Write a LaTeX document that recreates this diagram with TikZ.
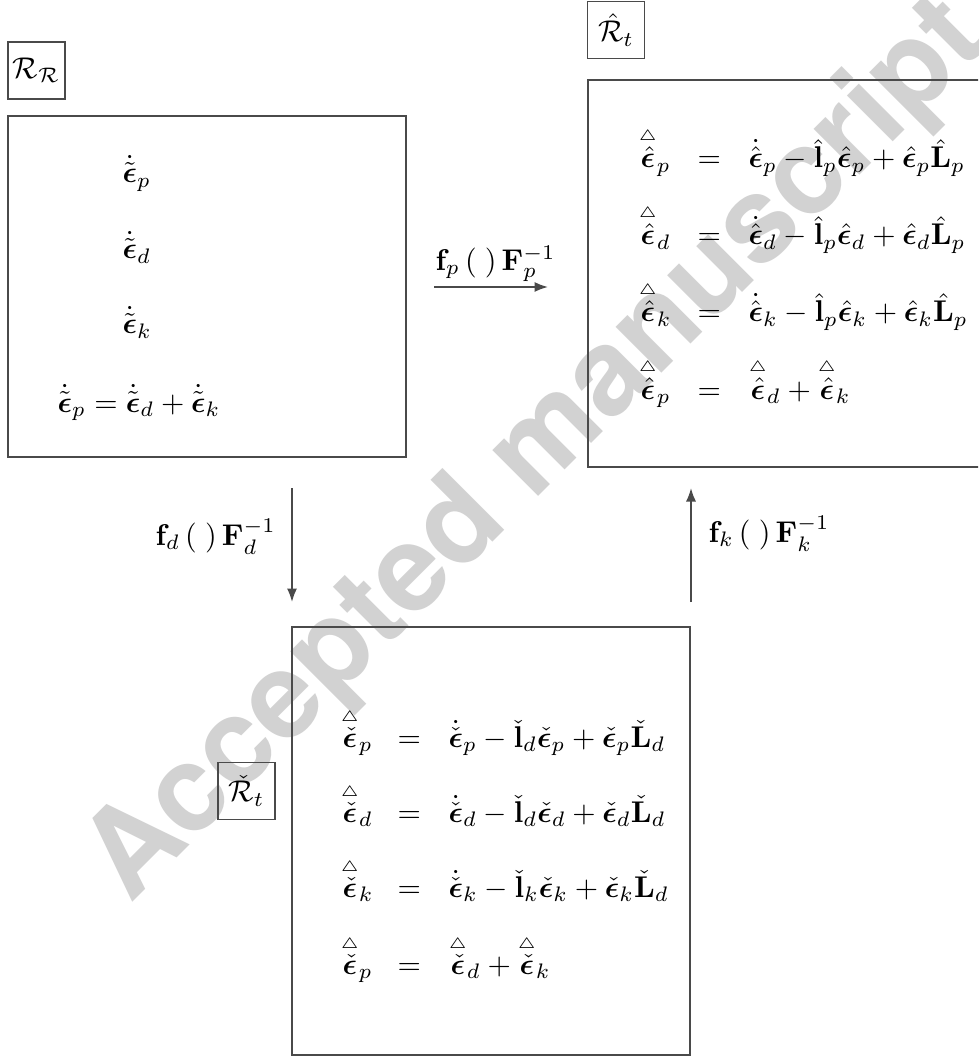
\documentclass[tikz,border=0pt]{standalone}
\usepackage{amsmath,amssymb,bm}
\usepackage[no-math]{fontspec}
\newfontfamily\wmfont{TeX Gyre Heros}
\usetikzlibrary{arrows.meta}
\definecolor{linegray}{HTML}{4A4A4A}
\definecolor{wmgray}{HTML}{D2D2D2}
\newcommand{\beps}{\bm{\epsilon}}
\newcommand{\tri}[1]{\overset{\scriptscriptstyle\triangle}{#1}}
\tikzset{
  bigbox/.style={draw=linegray, line width=0.6pt, inner sep=0pt},
  lblbox/.style={draw=linegray, line width=0.6pt, inner sep=0pt, minimum size=19pt},
  arr/.style={draw=linegray, line width=0.6pt, -{Latex[length=4.5pt,width=3.4pt]}},
  eq/.style={anchor=base west, inner sep=0pt},
  wm/.style={text=wmgray, font=\wmfont\bfseries\fontsize{40}{40}\selectfont, rotate=45}
}
\begin{document}
\begin{tikzpicture}[x=0.33333pt,y=-0.33333pt]
\useasboundingbox (0,0) rectangle (978,1057);
\clip (0,0) rectangle (978,1057);
\fill[white] (0,0) rectangle (978,1057);
% watermark
\node[wm] (wmark) at (538,452) {Accepted manuscript};
% label boxes
\node[lblbox] (RR) at (36.5,70.5) {$\mathcal{R}_{\mathcal{R}}$};
\node[lblbox] (Rhat) at (616,30) {$\hat{\mathcal{R}}_t$};
\node[lblbox] (Rchk) at (246.5,791) {$\check{\mathcal{R}}_t$};
% big boxes
\node[bigbox, minimum width=132.67pt, minimum height=113.67pt] (L) at (207,286.5) {};
\node[bigbox, minimum width=132.67pt, minimum height=129pt] (Rt) at (787,273.5) {};
\node[bigbox, minimum width=132.67pt, minimum height=142.67pt] (B) at (491,841) {};
% left box contents
\node[eq] (l1) at (122,183) {$\dot{\tilde{\beps}}_p$};
\node[eq] (l2) at (122,259) {$\dot{\tilde{\beps}}_d$};
\node[eq] (l3) at (122,334) {$\dot{\tilde{\beps}}_k$};
\node[eq] (l4) at (57,412) {$\dot{\tilde{\beps}}_p=\dot{\tilde{\beps}}_d+\dot{\tilde{\beps}}_k$};
% right box contents
\node[eq] (r1a) at (638,168) {$\tri{\hat{\beps}}_p$};
\node[eq] (r1b) at (697,168) {$=$};
\node[eq] (r1c) at (748,168) {$\dot{\hat{\beps}}_p-\hat{\mathbf{l}}_p\hat{\beps}_p+\hat{\beps}_p\hat{\mathbf{L}}_p$};
\node[eq] (r2a) at (638,245) {$\tri{\hat{\beps}}_d$};
\node[eq] (r2b) at (697,245) {$=$};
\node[eq] (r2c) at (748,245) {$\dot{\hat{\beps}}_d-\hat{\mathbf{l}}_p\hat{\beps}_d+\hat{\beps}_d\hat{\mathbf{L}}_p$};
\node[eq] (r3a) at (638,322) {$\tri{\hat{\beps}}_k$};
\node[eq] (r3b) at (697,322) {$=$};
\node[eq] (r3c) at (748,322) {$\dot{\hat{\beps}}_k-\hat{\mathbf{l}}_p\hat{\beps}_k+\hat{\beps}_k\hat{\mathbf{L}}_p$};
\node[eq] (r4a) at (638,399) {$\tri{\hat{\beps}}_p$};
\node[eq] (r4b) at (697,399) {$=$};
\node[eq] (r4c) at (748,399) {$\tri{\hat{\beps}}_d+\tri{\hat{\beps}}_k$};
% bottom box contents
\node[eq] (b1a) at (340,747) {$\tri{\check{\beps}}_p$};
\node[eq] (b1b) at (397,747) {$=$};
\node[eq] (b1c) at (448,747) {$\dot{\check{\beps}}_p-\check{\mathbf{l}}_d\check{\beps}_p+\check{\beps}_p\check{\mathbf{L}}_d$};
\node[eq] (b2a) at (340,822) {$\tri{\check{\beps}}_d$};
\node[eq] (b2b) at (397,822) {$=$};
\node[eq] (b2c) at (448,822) {$\dot{\check{\beps}}_d-\check{\mathbf{l}}_d\check{\beps}_d+\check{\beps}_d\check{\mathbf{L}}_d$};
\node[eq] (b3a) at (340,897) {$\tri{\check{\beps}}_k$};
\node[eq] (b3b) at (397,897) {$=$};
\node[eq] (b3c) at (448,897) {$\dot{\check{\beps}}_k-\check{\mathbf{l}}_k\check{\beps}_k+\check{\beps}_k\check{\mathbf{L}}_d$};
\node[eq] (b4a) at (340,974) {$\tri{\check{\beps}}_p$};
\node[eq] (b4b) at (397,974) {$=$};
\node[eq] (b4c) at (448,974) {$\tri{\check{\beps}}_d+\tri{\check{\beps}}_k$};
% arrows
\coordinate (fpS) at (434,287);
\coordinate (fpE) at (548,287);
\coordinate (fdS) at (292,488);
\coordinate (fdE) at (292,602);
\coordinate (fkS) at (691,602);
\coordinate (fkE) at (691,488);
\draw[arr] (fpS) -- (fpE);
\draw[arr] (fdS) -- (fdE);
\draw[arr] (fkS) -- (fkE);
\node[eq] (fpl) at (435,270) {$\mathbf{f}_p\,(\;)\,\mathbf{F}_p^{-1}$};
\node[eq] (fdl) at (155,545) {$\mathbf{f}_d\,(\;)\,\mathbf{F}_d^{-1}$};
\node[eq] (fkl) at (708,542) {$\mathbf{f}_k\,(\;)\,\mathbf{F}_k^{-1}$};
\end{tikzpicture}
\end{document}
